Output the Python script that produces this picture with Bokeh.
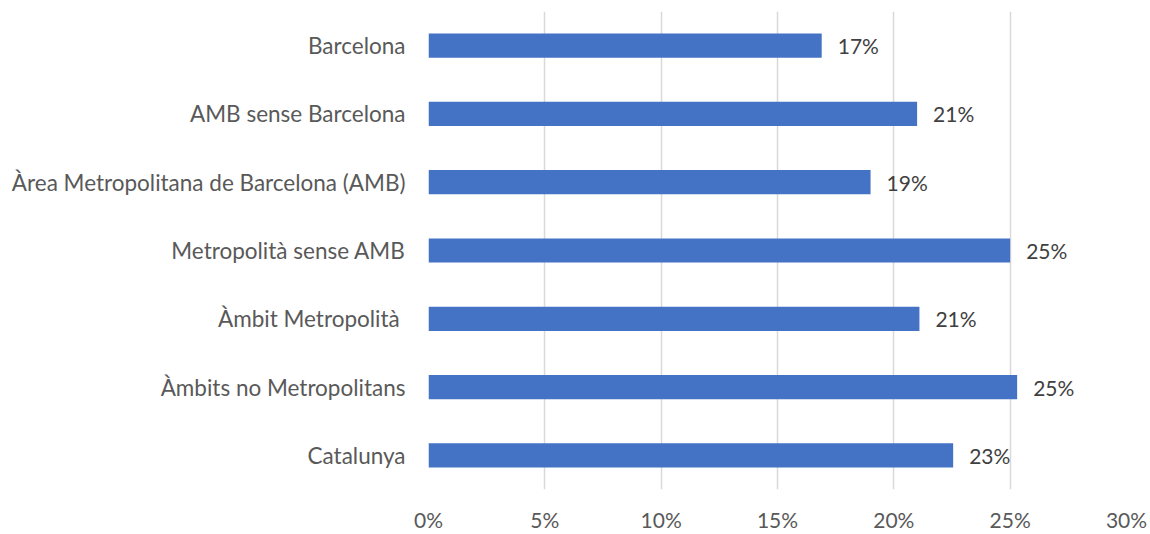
import math
from bokeh.plotting import figure
from bokeh.models import ColumnDataSource, FixedTicker, PrintfTickFormatter, Range1d, FactorRange
from bokeh.core.properties import value
from bokeh.embed import file_html
from bokeh.resources import INLINE

categories = [
    "Barcelona",
    "AMB sense Barcelona",
    "Àrea Metropolitana de Barcelona (AMB)",
    "Metropolità sense AMB",
    "Àmbit Metropolità ",
    "Àmbits no Metropolitans",
    "Catalunya",
]
values = [16.9, 21.0, 19.0, 25.0, 21.1, 25.3, 22.55]
x_ticks = [0, 5, 10, 15, 20, 25, 30]

labels = [f"{math.floor(v + 0.5)}%" for v in values]
src = ColumnDataSource(dict(cat=categories, val=values, lab=labels))

FONT = "Lato"
p = figure(
    width=1150, height=534,
    y_range=FactorRange(*reversed(categories), range_padding=0),
    x_range=Range1d(0, 30),
    output_backend="svg", toolbar_location=None,
    min_border_left=428, min_border_right=24, min_border_top=11, min_border_bottom=41,
)
p.outline_line_color = None
p.background_fill_color = "white"

p.hbar(y="cat", right="val", left=0, height=0.355, source=src,
       fill_color="#4472C4", line_color=None)

p.text(x="val", y="cat", text="lab", source=src, x_offset=16,
       text_baseline="middle", text_align="left",
       text_font=value(FONT), text_font_size="21px", text_color="#404040")

p.xaxis.ticker = FixedTicker(ticks=x_ticks)
p.xaxis.formatter = PrintfTickFormatter(format="%d%%")
p.xaxis.axis_line_color = None
p.xaxis.major_tick_line_color = None
p.xaxis.minor_tick_line_color = None
p.xaxis.major_tick_in = 0
p.xaxis.major_tick_out = 0
p.xaxis.major_label_standoff = 17
p.xaxis.major_label_text_font = FONT
p.xaxis.major_label_text_font_size = "21px"
p.xaxis.major_label_text_color = "#595959"

p.yaxis.axis_line_color = None
p.yaxis.major_tick_line_color = None
p.yaxis.minor_tick_line_color = None
p.yaxis.major_tick_in = 0
p.yaxis.major_tick_out = 0
p.yaxis.major_label_standoff = 23
p.yaxis.major_label_text_font = FONT
p.yaxis.major_label_text_font_size = "22.5px"
p.yaxis.major_label_text_color = "#595959"

p.ygrid.grid_line_color = None
p.xgrid.grid_line_color = "#D9D9D9"
p.xgrid.grid_line_width = 1.5

open("out.html", "w").write(file_html(p, INLINE))
